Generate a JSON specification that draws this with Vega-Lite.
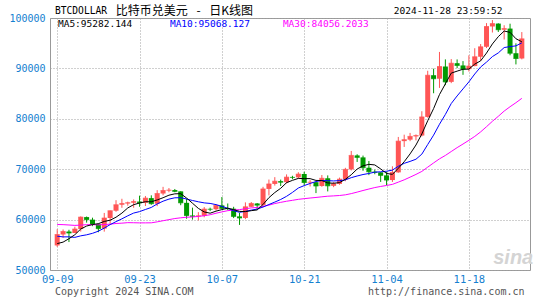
{
  "$schema": "https://vega.github.io/schema/vega-lite/v6.json",
  "width": 480,
  "height": 252,
  "autosize": {"type": "none"},
  "padding": {"left": 50, "top": 18, "right": 15, "bottom": 30},
  "background": "white",
  "config": {"view": {"stroke": "#999999", "strokeWidth": 1}, "font": "DejaVu Sans Mono"},
  "data": {"values": [
    {"date":"2024-09-09","open":54869,"high":58088,"low":54591,"close":57042,"ma5":55238.6,"ma10":56705.6,"ma30":59033.9},
    {"date":"2024-09-10","open":57042,"high":58044,"low":56386,"close":57635,"ma5":55533.6,"ma10":56571.8,"ma30":58998.0},
    {"date":"2024-09-11","open":57635,"high":57981,"low":55545,"close":57338,"ma5":56208.8,"ma10":56575.5,"ma30":58931.1},
    {"date":"2024-09-12","open":57338,"high":58588,"low":57324,"close":58132,"ma5":57003.2,"ma10":56475.5,"ma30":58849.2},
    {"date":"2024-09-13","open":58132,"high":60625,"low":57632,"close":60498,"ma5":58129.0,"ma10":56776.6,"ma30":58908.5},
    {"date":"2024-09-14","open":60498,"high":60610,"low":59400,"close":59993,"ma5":58719.2,"ma10":56978.9,"ma30":58989.6},
    {"date":"2024-09-15","open":59993,"high":60380,"low":58696,"close":59133,"ma5":59018.8,"ma10":57276.2,"ma30":58998.3},
    {"date":"2024-09-16","open":59133,"high":59210,"low":57493,"close":58213,"ma5":59193.8,"ma10":57701.3,"ma30":58955.7},
    {"date":"2024-09-17","open":58213,"high":61320,"low":57610,"close":60313,"ma5":59630.0,"ma10":58316.6,"ma30":59018.5},
    {"date":"2024-09-18","open":60313,"high":61786,"low":59174,"close":61760,"ma5":59882.4,"ma10":59005.7,"ma30":59095.9},
    {"date":"2024-09-19","open":61760,"high":63850,"low":61555,"close":62947,"ma5":60473.2,"ma10":59596.2,"ma30":59227.1},
    {"date":"2024-09-20","open":62947,"high":64133,"low":62350,"close":63201,"ma5":61286.8,"ma10":60152.8,"ma30":59295.2},
    {"date":"2024-09-21","open":63201,"high":63559,"low":62758,"close":63348,"ma5":62313.8,"ma10":60753.8,"ma30":59394.1},
    {"date":"2024-09-22","open":63348,"high":64000,"low":62357,"close":63578,"ma5":62966.8,"ma10":61298.4,"ma30":59376.9},
    {"date":"2024-09-23","open":63578,"high":64745,"low":62538,"close":63339,"ma5":63282.6,"ma10":61582.5,"ma30":59348.9},
    {"date":"2024-09-24","open":63339,"high":64688,"low":62700,"close":64262,"ma5":63545.6,"ma10":62009.4,"ma30":59350.4},
    {"date":"2024-09-25","open":64262,"high":64817,"low":62947,"close":63152,"ma5":63535.8,"ma10":62411.3,"ma30":59361.0},
    {"date":"2024-09-26","open":63152,"high":65839,"low":62670,"close":65173,"ma5":63900.8,"ma10":63107.3,"ma30":59552.9},
    {"date":"2024-09-27","open":65173,"high":66498,"low":64819,"close":65769,"ma5":64339.0,"ma10":63652.9,"ma30":59777.4},
    {"date":"2024-09-28","open":65769,"high":66260,"low":65422,"close":65858,"ma5":64842.8,"ma10":64062.7,"ma30":59994.0},
    {"date":"2024-09-29","open":65858,"high":66076,"low":65432,"close":65602,"ma5":65110.8,"ma10":64328.2,"ma30":60210.0},
    {"date":"2024-09-30","open":65602,"high":65618,"low":62856,"close":63327,"ma5":65145.8,"ma10":64340.8,"ma30":60355.1},
    {"date":"2024-10-01","open":63327,"high":64130,"low":60164,"close":60805,"ma5":64272.2,"ma10":64086.5,"ma30":60471.9},
    {"date":"2024-10-02","open":60805,"high":62370,"low":60000,"close":60649,"ma5":63248.2,"ma10":63793.6,"ma30":60522.5},
    {"date":"2024-10-03","open":60649,"high":61477,"low":59828,"close":60752,"ma5":62227.0,"ma10":63534.9,"ma30":60631.3},
    {"date":"2024-10-04","open":60752,"high":62484,"low":60460,"close":62086,"ma5":61523.8,"ma10":63317.3,"ma30":60768.5},
    {"date":"2024-10-05","open":62086,"high":62370,"low":61689,"close":62058,"ma5":61270.0,"ma10":63207.9,"ma30":60965.1},
    {"date":"2024-10-06","open":62058,"high":62975,"low":61798,"close":62819,"ma5":61672.8,"ma10":62972.5,"ma30":61260.4},
    {"date":"2024-10-07","open":62819,"high":64478,"low":62128,"close":62224,"ma5":61987.8,"ma10":62618.0,"ma30":61529.2},
    {"date":"2024-10-08","open":62224,"high":63200,"low":61860,"close":62160,"ma5":62269.4,"ma10":62248.2,"ma30":61772.2},
    {"date":"2024-10-09","open":62160,"high":62543,"low":60300,"close":60636,"ma5":61979.4,"ma10":61751.6,"ma30":61892.0},
    {"date":"2024-10-10","open":60636,"high":61321,"low":58946,"close":60326,"ma5":61633.0,"ma10":61451.5,"ma30":61981.7},
    {"date":"2024-10-11","open":60326,"high":63417,"low":60087,"close":62540,"ma5":61577.2,"ma10":61625.0,"ma30":62155.1},
    {"date":"2024-10-12","open":62540,"high":63480,"low":62487,"close":63206,"ma5":61773.6,"ma10":61880.7,"ma30":62324.2},
    {"date":"2024-10-13","open":63206,"high":63285,"low":62050,"close":62870,"ma5":61915.6,"ma10":62092.5,"ma30":62403.3},
    {"date":"2024-10-14","open":62870,"high":66500,"low":62457,"close":66083,"ma5":63005.0,"ma10":62492.2,"ma30":62606.3},
    {"date":"2024-10-15","open":66083,"high":67950,"low":64800,"close":67074,"ma5":64354.6,"ma10":62993.8,"ma30":62871.0},
    {"date":"2024-10-16","open":67074,"high":68424,"low":66750,"close":67620,"ma5":65370.6,"ma10":63473.9,"ma30":63184.6},
    {"date":"2024-10-17","open":67620,"high":67939,"low":66666,"close":67421,"ma5":66213.6,"ma10":63993.6,"ma30":63421.5},
    {"date":"2024-10-18","open":67421,"high":68969,"low":67177,"close":68428,"ma5":67325.2,"ma10":64620.4,"ma30":63643.8},
    {"date":"2024-10-19","open":68428,"high":68693,"low":68010,"close":68379,"ma5":67784.4,"ma10":65394.7,"ma30":63824.8},
    {"date":"2024-10-20","open":68379,"high":69400,"low":68100,"close":69031,"ma5":68175.8,"ma10":66265.2,"ma30":64019.2},
    {"date":"2024-10-21","open":69031,"high":69500,"low":66835,"close":67377,"ma5":68127.2,"ma10":66748.9,"ma30":64153.5},
    {"date":"2024-10-22","open":67377,"high":67836,"low":66571,"close":67426,"ma5":68128.2,"ma10":67170.9,"ma30":64281.7},
    {"date":"2024-10-23","open":67426,"high":67472,"low":65260,"close":66668,"ma5":67776.2,"ma10":67550.7,"ma30":64392.7},
    {"date":"2024-10-24","open":66668,"high":68850,"low":66510,"close":68198,"ma5":67740.0,"ma10":67762.2,"ma30":64523.9},
    {"date":"2024-10-25","open":68198,"high":68771,"low":65596,"close":66699,"ma5":67273.6,"ma10":67724.7,"ma30":64642.1},
    {"date":"2024-10-26","open":66699,"high":67454,"low":66439,"close":67092,"ma5":67216.6,"ma10":67671.9,"ma30":64706.1},
    {"date":"2024-10-27","open":67092,"high":68332,"low":66913,"close":68021,"ma5":67335.6,"ma10":67731.9,"ma30":64781.2},
    {"date":"2024-10-28","open":68021,"high":70270,"low":67618,"close":69962,"ma5":67994.4,"ma10":67885.3,"ma30":64918.0},
    {"date":"2024-10-29","open":69962,"high":73620,"low":69760,"close":72736,"ma5":68902.0,"ma10":68321.0,"ma30":65155.8},
    {"date":"2024-10-30","open":72736,"high":72961,"low":71436,"close":72344,"ma5":70031.0,"ma10":68652.3,"ma30":65456.3},
    {"date":"2024-10-31","open":72344,"high":72700,"low":69685,"close":70292,"ma5":70671.0,"ma10":68943.8,"ma30":65772.6},
    {"date":"2024-11-01","open":70292,"high":71632,"low":68820,"close":69496,"ma5":70966.0,"ma10":69150.8,"ma30":66067.5},
    {"date":"2024-11-02","open":69496,"high":69914,"low":69000,"close":69374,"ma5":70848.4,"ma10":69421.4,"ma30":66354.9},
    {"date":"2024-11-03","open":69374,"high":69391,"low":67478,"close":68775,"ma5":70056.2,"ma10":69479.1,"ma30":66577.8},
    {"date":"2024-11-04","open":68775,"high":69500,"low":66835,"close":67850,"ma5":69157.4,"ma10":69594.2,"ma30":66770.9},
    {"date":"2024-11-05","open":67850,"high":70577,"low":67476,"close":69372,"ma5":68973.4,"ma10":69822.2,"ma30":66989.3},
    {"date":"2024-11-06","open":69372,"high":76400,"low":69298,"close":75571,"ma5":70188.4,"ma10":70577.2,"ma30":67434.2},
    {"date":"2024-11-07","open":75571,"high":76849,"low":74416,"close":75857,"ma5":71485.0,"ma10":71166.7,"ma30":67890.8},
    {"date":"2024-11-08","open":75857,"high":77199,"low":75555,"close":76509,"ma5":73031.8,"ma10":71544.0,"ma30":68419.9},
    {"date":"2024-11-09","open":76509,"high":76900,"low":75714,"close":76677,"ma5":74797.2,"ma10":71977.3,"ma30":68964.9},
    {"date":"2024-11-10","open":76677,"high":81500,"low":76492,"close":80370,"ma5":76996.8,"ma10":72985.1,"ma30":69559.3},
    {"date":"2024-11-11","open":80370,"high":89530,"low":80216,"close":88647,"ma5":79612.0,"ma10":74900.2,"ma30":70407.3},
    {"date":"2024-11-12","open":88647,"high":89940,"low":85072,"close":87952,"ma5":82031.0,"ma10":76758.0,"ma30":71243.4},
    {"date":"2024-11-13","open":87952,"high":93265,"low":86127,"close":90375,"ma5":84804.2,"ma10":78918.0,"ma30":72053.1},
    {"date":"2024-11-14","open":90375,"high":91790,"low":86668,"close":87325,"ma5":86933.8,"ma10":80865.5,"ma30":72728.1},
    {"date":"2024-11-15","open":87325,"high":91850,"low":87073,"close":91032,"ma5":89066.2,"ma10":83031.5,"ma30":73508.5},
    {"date":"2024-11-16","open":91032,"high":91779,"low":90056,"close":90587,"ma5":89454.2,"ma10":84533.1,"ma30":74280.7},
    {"date":"2024-11-17","open":90587,"high":91449,"low":88723,"close":89855,"ma5":89834.8,"ma10":85932.9,"ma30":74995.0},
    {"date":"2024-11-18","open":89855,"high":92594,"low":89376,"close":90464,"ma5":89852.6,"ma10":87328.4,"ma30":75731.1},
    {"date":"2024-11-19","open":90464,"high":94002,"low":90426,"close":92310,"ma5":90849.6,"ma10":88891.7,"ma30":76507.1},
    {"date":"2024-11-20","open":92310,"high":94831,"low":91500,"close":94286,"ma5":91500.4,"ma10":90283.3,"ma30":77404.1},
    {"date":"2024-11-21","open":94286,"high":98988,"low":94040,"close":98317,"ma5":93046.4,"ma10":91250.3,"ma30":78433.8},
    {"date":"2024-11-22","open":98317,"high":99588,"low":97122,"close":98892,"ma5":94853.8,"ma10":92344.3,"ma30":79507.9},
    {"date":"2024-11-23","open":98892,"high":98950,"low":97232,"close":97672,"ma5":96295.4,"ma10":93074.0,"ma30":80490.4},
    {"date":"2024-11-24","open":97672,"high":98564,"low":95734,"close":97900,"ma5":97413.4,"ma10":94131.5,"ma30":81530.4},
    {"date":"2024-11-25","open":97900,"high":98871,"low":92600,"close":93010,"ma5":97158.2,"ma10":94329.3,"ma30":82394.3},
    {"date":"2024-11-26","open":93010,"high":94973,"low":90791,"close":91965,"ma5":95887.8,"ma10":94467.1,"ma30":83192.5},
    {"date":"2024-11-27","open":91965,"high":97208,"low":91792,"close":95863,"ma5":95282.0,"ma10":95067.9,"ma30":84055.8}
  ]},
  "layer": [
    {
      "encoding": {
        "x": {
          "field": "date", "type": "temporal",
          "scale": {"type": "utc", "domain": [1725807600000, 1732712400000]},
          "axis": {
            "values": [1725840000000, 1727049600000, 1728259200000, 1729468800000, 1730678400000, 1731888000000],
            "format": "%m-%d", "title": null, "ticks": false, "domain": false,
            "grid": true, "gridColor": "#a0a0a0", "gridDash": [1, 2], "gridWidth": 1,
            "labelColor": "#1480d0", "labelFont": "DejaVu Sans Mono", "labelFontSize": 10.5,
            "labelPadding": 4, "labelFlush": false, "labelOverlap": false
          }
        }
      },
      "layer": [
        {
          "mark": {"type": "rule", "strokeWidth": 1},
          "encoding": {
            "y": {"field": "low", "type": "quantitative",
              "scale": {"domain": [50000, 100000], "nice": false, "zero": false},
              "axis": {
                "values": [50000, 55000, 60000, 65000, 70000, 75000, 80000, 85000, 90000, 95000, 100000],
                "format": "d", "title": null, "ticks": false, "domain": false,
                "grid": true, "gridColor": "#a0a0a0", "gridDash": [1, 2], "gridWidth": 1,
                "labelColor": "#1480d0", "labelFont": "DejaVu Sans Mono", "labelFontSize": 10,
                "labelPadding": 5, "labelFlush": false, "labelOverlap": false
              }},
            "y2": {"field": "high"},
            "color": {"condition": {"test": "datum.close >= datum.open", "value": "#ff5555"}, "value": "#009900"}
          }
        },
        {
          "mark": {"type": "bar", "width": 5},
          "encoding": {
            "y": {"field": "open", "type": "quantitative"},
            "y2": {"field": "close"},
            "color": {"condition": {"test": "datum.close >= datum.open", "value": "#ff5555"}, "value": "#009900"}
          }
        },
        {
          "mark": {"type": "tick", "orient": "horizontal", "size": 5, "thickness": 1},
          "encoding": {
            "y": {"field": "close", "type": "quantitative"},
            "color": {"condition": {"test": "datum.close >= datum.open", "value": "#ff5555"}, "value": "#009900"}
          }
        },
        {
          "mark": {"type": "line", "color": "#ff00ff", "strokeWidth": 1},
          "encoding": {"y": {"field": "ma30", "type": "quantitative"}}
        },
        {
          "mark": {"type": "line", "color": "#0000ff", "strokeWidth": 1},
          "encoding": {"y": {"field": "ma10", "type": "quantitative"}}
        },
        {
          "mark": {"type": "line", "color": "#000000", "strokeWidth": 1},
          "encoding": {"y": {"field": "ma5", "type": "quantitative"}}
        }
      ]
    },
    {
      "data": {"values": [{"label": "x"}]},
      "mark": {"type": "text", "align": "left", "baseline": "middle", "font": "DejaVu Sans Mono", "fontSize": 9.6, "color": "#000000"},
      "encoding": {
        "x": {"datum": 1725807600000, "type": "temporal"},
        "y": {"datum": 101400, "type": "quantitative"},
        "text": {"value": "BTCDOLLAR"}
      }
    },
    {
      "data": {"values": [{"label": "x"}]},
      "mark": {"type": "text", "align": "left", "baseline": "middle", "font": "Noto Sans CJK SC", "fontSize": 12, "color": "#000000"},
      "encoding": {
        "x": {"datum": 1726700400000, "type": "temporal"},
        "y": {"datum": 101400, "type": "quantitative"},
        "text": {"value": "比特币兑美元\u2002\u00a0-\u2002\u00a0日K线图"}
      }
    },
    {
      "data": {"values": [{"label": "x"}]},
      "mark": {"type": "text", "align": "right", "baseline": "middle", "font": "DejaVu Sans Mono", "fontSize": 9.5, "color": "#000000"},
      "encoding": {
        "x": {"datum": 1732381200000, "type": "temporal"},
        "y": {"datum": 101400, "type": "quantitative"},
        "text": {"value": "2024-11-28 23:59:52"}
      }
    },
    {
      "data": {"values": [{"label": "x"}]},
      "mark": {"type": "text", "align": "left", "baseline": "middle", "font": "DejaVu Sans Mono", "fontSize": 9.5, "color": "#000000"},
      "encoding": {
        "x": {"datum": 1725850800000, "type": "temporal"},
        "y": {"datum": 98900, "type": "quantitative"},
        "text": {"value": "MA5:95282.144"}
      }
    },
    {
      "data": {"values": [{"label": "x"}]},
      "mark": {"type": "text", "align": "left", "baseline": "middle", "font": "DejaVu Sans Mono", "fontSize": 9.5, "color": "#0000ff"},
      "encoding": {
        "x": {"datum": 1727496000000, "type": "temporal"},
        "y": {"datum": 98900, "type": "quantitative"},
        "text": {"value": "MA10:95068.127"}
      }
    },
    {
      "data": {"values": [{"label": "x"}]},
      "mark": {"type": "text", "align": "left", "baseline": "middle", "font": "DejaVu Sans Mono", "fontSize": 9.5, "color": "#ff00ff"},
      "encoding": {
        "x": {"datum": 1729155600000, "type": "temporal"},
        "y": {"datum": 98900, "type": "quantitative"},
        "text": {"value": "MA30:84056.2033"}
      }
    },
    {
      "data": {"values": [{"label": "x"}]},
      "mark": {"type": "text", "align": "left", "baseline": "middle", "font": "DejaVu Sans Mono", "fontSize": 10, "color": "#555555"},
      "encoding": {
        "x": {"datum": 1725807600000, "type": "temporal"},
        "y": {"datum": 45580, "type": "quantitative"},
        "text": {"value": "Copyright 2024 SINA.COM"}
      }
    },
    {
      "data": {"values": [{"label": "x"}]},
      "mark": {"type": "text", "align": "right", "baseline": "middle", "font": "DejaVu Sans Mono", "fontSize": 10, "color": "#555555"},
      "encoding": {
        "x": {"datum": 1732705200000, "type": "temporal"},
        "y": {"datum": 45580, "type": "quantitative"},
        "text": {"value": "http://finance.sina.com.cn"}
      }
    },
    {
      "data": {"values": [{"label": "x"}]},
      "mark": {"type": "text", "align": "center", "baseline": "middle", "font": "Liberation Sans", "fontSize": 20, "fontWeight": "bold", "fontStyle": "italic", "color": "#d4d4d4"},
      "encoding": {
        "x": {"datum": 1732539600000, "type": "temporal"},
        "y": {"datum": 52300, "type": "quantitative"},
        "text": {"value": "sina"}
      }
    }
  ]
}
